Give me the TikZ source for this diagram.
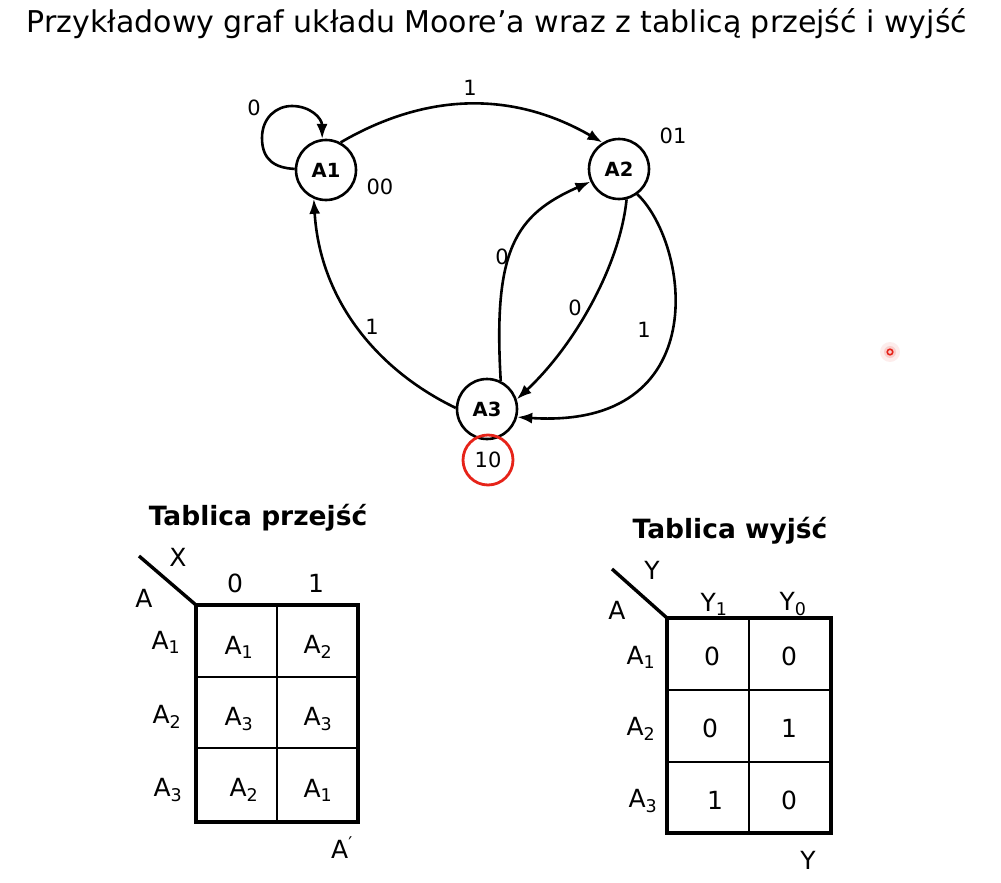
\documentclass[tikz,border=0pt]{standalone}
\usepackage{fontspec}
\setmainfont{DejaVu Sans}
\usetikzlibrary{arrows.meta}
\definecolor{markred}{RGB}{230,35,25}
\begin{document}
\begin{tikzpicture}[x=1pt,y=-1pt,
  state/.style={circle, draw, line width=2.6pt, minimum size=60pt, inner sep=0pt,
    font=\fontsize{19.5}{19.5}\selectfont\bfseries},
  edge/.style={line width=2.6pt, -{Latex[length=15pt,width=11pt]}},
  lbl/.style={font=\fontsize{21}{21}\selectfont, inner sep=0pt},
  tabtitle/.style={font=\fontsize{26.5}{26.5}\selectfont\bfseries, inner sep=0pt},
  cell/.style={font=\fontsize{25}{25}\selectfont, inner sep=0pt},
  frame/.style={line width=3.4pt},
  grid/.style={line width=1.4pt}]
\useasboundingbox (0,0) rectangle (1001,883);
\fill[white] (0,0) rectangle (1001,883);

% heading
\node[font=\fontsize{30}{30}\selectfont, inner sep=0pt] (title) at (497,24)
  {Przykładowy graf układu Moore’a wraz z tablicą przejść i wyjść};

% states of the Moore machine
\node[state] (A1) at (326,170) {A1};
\node[state] (A2) at (619,169) {A2};
\node[state] (A3) at (487,409) {A3};

% transitions
\draw[edge] (A1.178) .. controls (275,168) and (262,160) .. (262,138)
  .. controls (262,118) and (276,106) .. (292,106)
  .. controls (310,106) and (322,118) .. (A1.97);
\draw[edge] (A1.62) .. controls (429,91) and (515,92) .. (A2.122);
\draw[edge] (A3.178) .. controls (377,370) and (320,300) .. (A1.247);
\draw[edge] (A3.64) .. controls (493,250) and (515,215) .. (A2.204);
\draw[edge] (A2.284) .. controls (620,265) and (575,345) .. (A3.18);
\draw[edge] (A2.306) .. controls (690,245) and (715,430) .. (A3.345);

% input labels
\node[lbl] (l0) at (254,108) {0};
\node[lbl] (l1) at (470,88) {1};
\node[lbl] (l2) at (502,257) {0};
\node[lbl] (l3) at (575,308) {0};
\node[lbl] (l4) at (372,327) {1};
\node[lbl] (l5) at (644,330) {1};

% outputs
\node[lbl] (o1) at (380,187) {00};
\node[lbl] (o2) at (673,136) {01};
\node[lbl, circle, draw=markred, line width=2.8pt, minimum size=50pt] (o3) at (488,460) {10};

% pointer spot
\fill[markred, opacity=0.08] (890,352) circle (10);
\fill[markred, opacity=0.15] (890,352) circle (6);
\draw[markred, line width=1.6pt] (890,352) circle (2.8);

% transition table
\node[tabtitle] (t1) at (258,518) {Tablica przejść};
\draw[grid] (277,605) -- (277,822) (196,677) -- (358,677) (196,748) -- (358,748);
\draw[frame] (196,605) rectangle (358,822);
\draw[frame] (139,556) -- (196,605);
\node[cell] (tx) at (178,557) {X};
\node[cell] (ta) at (144,598) {A};
\node[cell] (c0) at (235,583) {0};
\node[cell] (c1) at (316,583) {1};
\node[cell] (r1) at (166,642) {A\textsubscript{1}};
\node[cell] (r2) at (167,717) {A\textsubscript{2}};
\node[cell] (r3) at (168,790) {A\textsubscript{3}};
\node[cell] (e11) at (239,647) {A\textsubscript{1}};
\node[cell] (e12) at (318,647) {A\textsubscript{2}};
\node[cell] (e21) at (239,719) {A\textsubscript{3}};
\node[cell] (e22) at (318,719) {A\textsubscript{3}};
\node[cell] (e31) at (244,790) {A\textsubscript{2}};
\node[cell] (e32) at (318,790) {A\textsubscript{1}};
\node[cell] (tn) at (342,848) {A\textsuperscript{′}};

% output table
\node[tabtitle] (t2) at (730,531) {Tablica wyjść};
\draw[grid] (749,618) -- (749,833) (667,690) -- (831,690) (667,762) -- (831,762);
\draw[frame] (667,618) rectangle (831,833);
\draw[frame] (612,569) -- (667,618);
\node[cell] (wy) at (652,570) {Y};
\node[cell] (wa) at (617,610) {A};
\node[cell] (y1) at (714,604) {Y\textsubscript{1}};
\node[cell] (y0) at (793,604) {Y\textsubscript{0}};
\node[cell] (s1) at (641,657) {A\textsubscript{1}};
\node[cell] (s2) at (641,729) {A\textsubscript{2}};
\node[cell] (s3) at (643,801) {A\textsubscript{3}};
\node[cell] (v11) at (712,656) {0};
\node[cell] (v12) at (789,656) {0};
\node[cell] (v21) at (710,728) {0};
\node[cell] (v22) at (789,728) {1};
\node[cell] (v31) at (715,800) {1};
\node[cell] (v32) at (789,800) {0};
\node[cell] (wn) at (808,860) {Y};
\end{tikzpicture}
\end{document}
